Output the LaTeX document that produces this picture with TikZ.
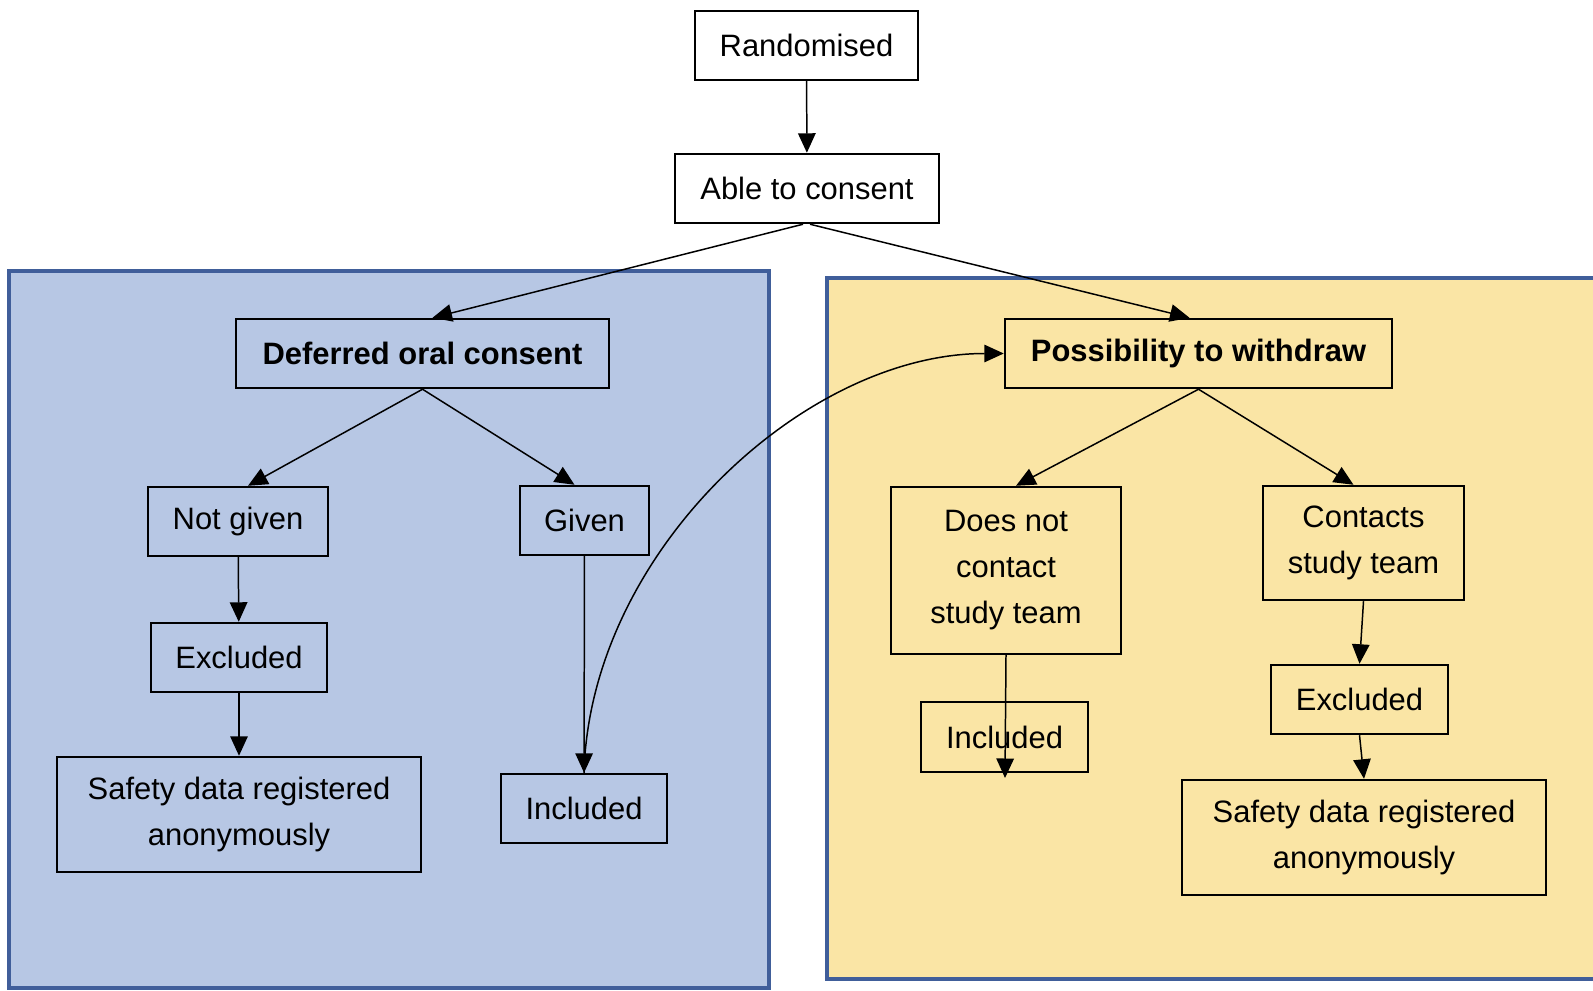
\documentclass[tikz,border=0pt]{standalone}
\usepackage{fontspec}
\setmainfont{Liberation Sans}
\usetikzlibrary{arrows.meta}

\definecolor{panelblue}{RGB}{183,199,228}
\definecolor{panelyellow}{RGB}{250,229,165}
\definecolor{paneledge}{RGB}{64,94,154}

\tikzset{
	box/.style={draw, line width=1.4pt, align=center, inner sep=2pt,
		font=\fontsize{17.6pt}{26.2pt}\selectfont},
	boxbold/.style={box, font=\fontsize{17.6pt}{26.2pt}\selectfont\bfseries},
	arr/.style={line width=0.85pt, -{Triangle[length=3.9mm, width=3.5mm]}},
	panel/.style={draw=paneledge, line width=1.9pt},
}

\begin{document}
\begin{tikzpicture}[x=0.2mm, y=-0.2mm]
	
	\useasboundingbox (0,0) rectangle (1593,990);
	\fill[white] (0,0) rectangle (1593,990);
	
	% panels
	\draw[panel, fill=panelblue] (9,271) rectangle (769,988);
	\draw[panel, fill=panelyellow] (827,278) rectangle (1610,979);
	
	% top
	\node[box, minimum width=44.6mm, minimum height=13.8mm] (rand) at (806.5,45.5) {Randomised};
	\node[box, minimum width=52.8mm, minimum height=13.8mm] (able) at (807,188.5) {Able to consent};
	
	% left branch
	\node[boxbold, minimum width=74.6mm, minimum height=13.8mm] (doc) at (422.5,353.5) {Deferred oral consent};
	\node[box, minimum width=36mm, minimum height=13.8mm] (notg) at (238,521.5) {Not given};
	\node[box, minimum width=25.8mm, minimum height=13.8mm] (given) at (584.5,520.5) {Given};
	\node[box, minimum width=35.2mm, minimum height=13.8mm] (exclL) at (239,657.5) {Excluded};
	\node[box, minimum width=72.8mm, minimum height=23mm] (safeL) at (239,814.5) {Safety data registered\\anonymously};
	\node[box, minimum width=33.2mm, minimum height=13.8mm] (inclL) at (584,808.5) {Included};
	
	% right branch
	\node[boxbold, minimum width=77.4mm, minimum height=13.8mm] (poss) at (1198.5,353.5) {Possibility to withdraw};
	\node[box, minimum width=46mm, minimum height=33.4mm] (dnc) at (1006,570.5) {Does not\\contact\\study team};
	\node[box, minimum width=40.2mm, minimum height=22.8mm] (cont) at (1363.5,543) {Contacts\\study team};
	\node[box, minimum width=33.4mm, minimum height=14mm] (inclR) at (1004.5,737) {Included};
	\node[box, minimum width=35.4mm, minimum height=13.8mm] (exclR) at (1359.5,699.5) {Excluded};
	\node[box, minimum width=72.8mm, minimum height=23mm] (safeR) at (1364,837.5) {Safety data registered\\anonymously};
	
	\coordinate (inclRend) at (1005,778);
	
	% arrows
	\draw[arr] (rand) -- (able);
	\draw[arr] ([xshift=-0.8mm]able.south) -- ([xshift=2mm]doc.north);
	\draw[arr] ([xshift=0.6mm]able.south) -- ([xshift=-1.8mm]poss.north);
	\draw[arr] (doc.south) -- ([xshift=2mm]notg.north);
	\draw[arr] (doc.south) -- ([xshift=-2mm]given.north);
	\draw[arr] (notg) -- (exclL);
	\draw[arr] (exclL) -- (safeL);
	\draw[arr] (given) -- (inclL);
	\draw[arr] (inclL.north) .. controls +(6,-220) and +(-200,0) .. (poss.west);
	\draw[arr] (poss.south) -- ([xshift=2mm]dnc.north);
	\draw[arr] (poss.south) -- ([xshift=-2mm]cont.north);
	\draw[arr] (dnc.south) -- (inclRend);
	\draw[arr] (cont.south) -- (exclR.north);
	\draw[arr] (exclR.south) -- (safeR.north);
	
\end{tikzpicture}
\end{document}
